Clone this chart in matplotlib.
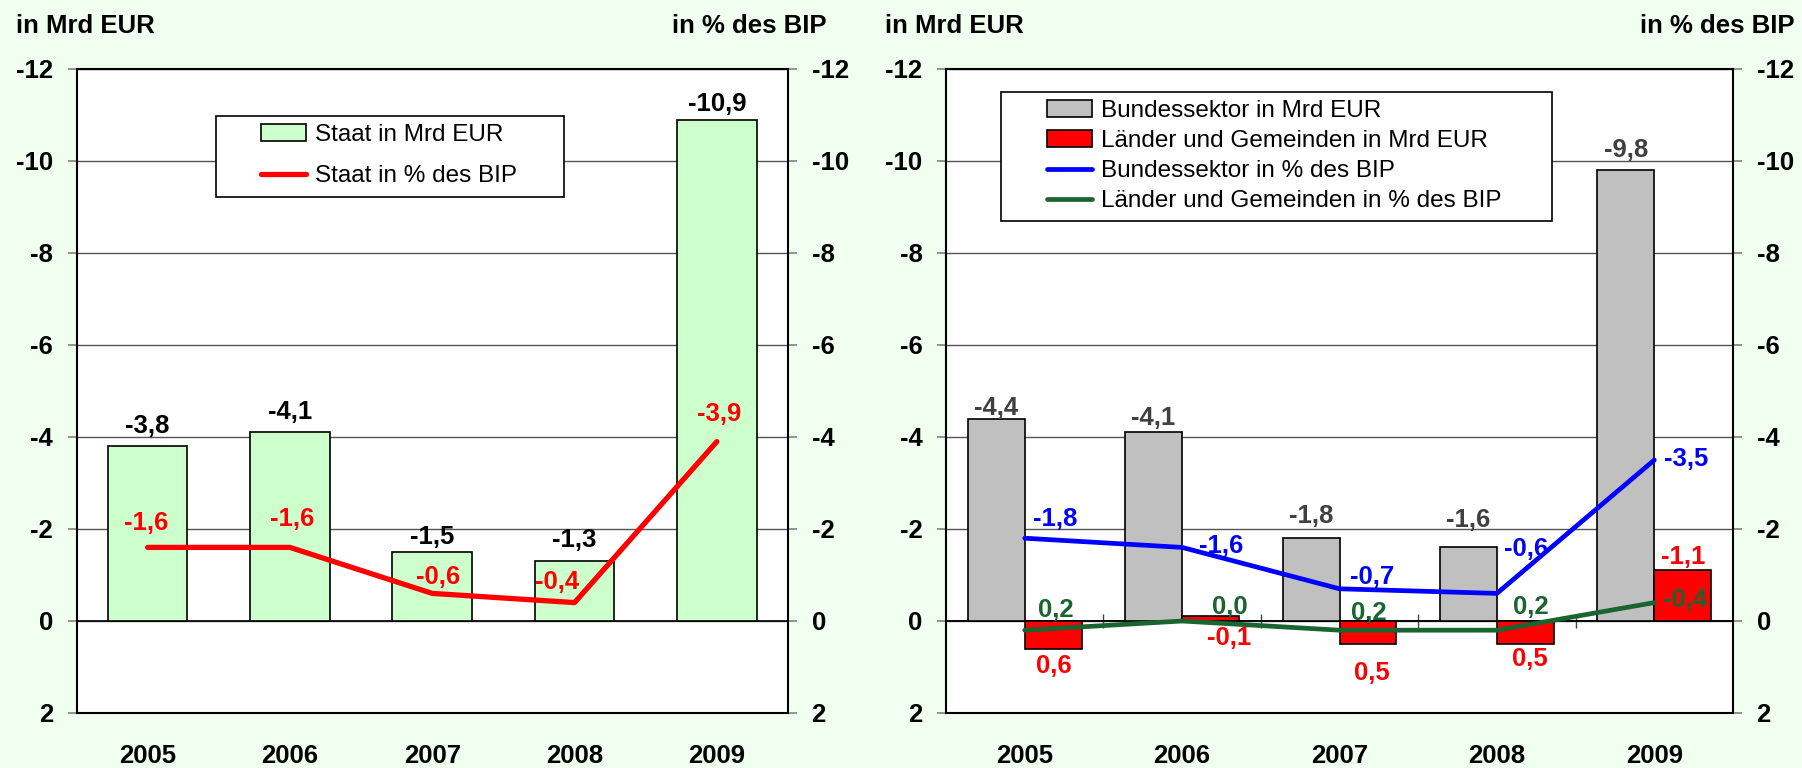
"""Budget balance of the state sectors 2005-2009, two panels with inverted value axes."""

import matplotlib

matplotlib.use("Agg")

import matplotlib.pyplot as plt
import numpy as np
from matplotlib.patches import Rectangle

# data (deficits negative, axes inverted)
years = ["2005", "2006", "2007", "2008", "2009"]
staat_mrd = [-3.8, -4.1, -1.5, -1.3, -10.9]
staat_bip = [-1.6, -1.6, -0.6, -0.4, -3.9]
bund_mrd = [-4.4, -4.1, -1.8, -1.6, -9.8]
laender_mrd = [0.6, -0.1, 0.5, 0.5, -1.1]
bund_bip = [-1.8, -1.6, -0.7, -0.6, -3.5]
laender_bip = [0.2, 0.0, 0.2, 0.2, -0.4]
y_ticks = [-12, -10, -8, -6, -4, -2, 0, 2]

# label offsets in pixels (dx, dy), layout only
off_staat_mrd = [(0, 20), (0, 20), (0, 15), (0, 21), (0, 16)]
off_staat_bip = [(-2, 24), (2, 28), (6, 16), (-17, 21), (2, 28)]
off_bund_mrd = [(0, 11), (0, 14), (0, 22), (0, 27), (0, 20)]
off_laender_mrd = [(1, -17), (19, -22), (4, -29), (4, -15), (0, 13)]
off_bund_bip = [(30, 19), (39, 1), (33, 12), (29, 44), (32, 1)]
off_laender_bip = [(31, 20), (48, 14), (29, 17), (34, 23), (31, 3)]

BG = "#F0FFF0"
GREEN = "#1A6430"
W, H = 1802, 768
FS = 18.5

plt.rcParams["font.family"] = ["Liberation Sans", "DejaVu Sans"]
plt.rcParams["font.weight"] = "bold"


def fmt(v):
    return f"{v:.1f}".replace(".", ",")


def add_axes_px(fig, x0, x1, top, bottom):
    return fig.add_axes([x0 / W, 1 - bottom / H, (x1 - x0) / W, (bottom - top) / H])


def style_axes(ax):
    ax.set_facecolor("white")
    ax.set_xlim(-0.5, len(years) - 0.5)
    ax.set_ylim(2, -12)
    ax.set_yticks(y_ticks)
    ax.set_yticklabels([str(t) for t in y_ticks])
    ax.tick_params(axis="y", left=True, right=True, labelleft=True, labelright=True,
                   direction="out", length=6.5, width=1.2, color="#808080",
                   pad=10.5, labelsize=FS)
    ax.set_xticks(np.arange(len(years)))
    ax.set_xticklabels(years)
    ax.tick_params(axis="x", length=0, pad=22, labelsize=FS)
    ax.yaxis.grid(True, color="#555555", lw=1.0)
    ax.set_axisbelow(True)
    for sp in ax.spines.values():
        sp.set_linewidth(1.5)
        sp.set_color("black")
    ax.axhline(0, color="black", lw=1.2, zorder=1.5)


def label(ax, xs, vals, offsets, color):
    for xi, v, (dx, dy) in zip(xs, vals, offsets):
        ax.annotate(fmt(v), (xi, v), xytext=(dx, dy), textcoords="offset pixels",
                    ha="center", va="center", fontsize=FS, fontweight="bold",
                    color=color, zorder=5)


fig = plt.figure(figsize=(W / 100, H / 100), dpi=100, facecolor=BG)
x = np.arange(len(years))

# left panel: Staat
ax_l = add_axes_px(fig, 76.5, 788, 69, 713)
style_axes(ax_l)
bars_staat = ax_l.bar(x, staat_mrd, width=0.56, color="#CCFFCC", edgecolor="black",
                      lw=1.2, zorder=2, label="Staat in Mrd EUR")
line_staat, = ax_l.plot(x, staat_bip, color="#FF0000", lw=3.8, zorder=3,
                        solid_capstyle="round", label="Staat in % des BIP")
label(ax_l, x, staat_mrd, off_staat_mrd, "black")
label(ax_l, x, staat_bip, off_staat_bip, "#FF0000")

# right panel: Bund vs Länder und Gemeinden
ax_r = add_axes_px(fig, 946, 1733, 69, 713)
style_axes(ax_r)
w = 0.362
bars_bund = ax_r.bar(x - w / 2, bund_mrd, width=w, color="#C0C0C0", edgecolor="black",
                     lw=1.2, zorder=2, label="Bundessektor in Mrd EUR")
bars_laender = ax_r.bar(x + w / 2, laender_mrd, width=w, color="#FF0000", edgecolor="black",
                        lw=1.2, zorder=2, label="Länder und Gemeinden in Mrd EUR")
line_bund, = ax_r.plot(x, bund_bip, color="#0000FF", lw=3.4, zorder=3,
                       solid_capstyle="round", label="Bundessektor in % des BIP")
line_laender, = ax_r.plot(x, laender_bip, color=GREEN, lw=3.4, zorder=3,
                          solid_capstyle="round", label="Länder und Gemeinden in % des BIP")
label(ax_r, x - w / 2, bund_mrd, off_bund_mrd, "#404040")
label(ax_r, x + w / 2, laender_mrd, off_laender_mrd, "#FF0000")
label(ax_r, x, bund_bip, off_bund_bip, "#0000FF")
label(ax_r, x, laender_bip, off_laender_bip, GREEN)

# category boundary ticks on the zero line
zero_frac = (0 - 2) / (-12 - 2)
sec = ax_r.secondary_xaxis(zero_frac)
bounds = x[:-1] + 0.5
sec.set_xticks(bounds, labels=[""] * len(bounds))
sec.tick_params(direction="inout", length=10, width=1.0, color="#444444")
for sp in sec.spines.values():
    sp.set_color("black")
    sp.set_linewidth(1.2)

# legends with separate frames
leg_font = {"size": 17.5, "weight": "normal"}
fig.add_artist(Rectangle((216 / W, 1 - 197 / H), (564 - 216) / W, (197 - 116) / H,
                         transform=fig.transFigure, facecolor="white",
                         edgecolor="black", lw=1.2, zorder=4))
fig.legend(handles=[bars_staat, line_staat], loc="upper left",
           bbox_to_anchor=(261 / W, 1 - 124 / H), bbox_transform=fig.transFigure,
           frameon=False, borderpad=0, borderaxespad=0, prop=leg_font,
           handlelength=1.86, handletextpad=0.36, labelspacing=0.8)

fig.add_artist(Rectangle((1001 / W, 1 - 221 / H), (1552 - 1001) / W, (221 - 92) / H,
                         transform=fig.transFigure, facecolor="white",
                         edgecolor="black", lw=1.2, zorder=4))
fig.legend(handles=[bars_bund, bars_laender, line_bund, line_laender], loc="upper left",
           bbox_to_anchor=(1047 / W, 1 - 100 / H), bbox_transform=fig.transFigure,
           frameon=False, borderpad=0, borderaxespad=0, prop=leg_font,
           handlelength=1.86, handletextpad=0.36, labelspacing=0.33)

# axis headers
hy = 1 - 26 / H
fig.text(16 / W, hy, "in Mrd EUR", ha="left", va="center", fontsize=FS, fontweight="bold")
fig.text(827 / W, hy, "in % des BIP", ha="right", va="center", fontsize=FS, fontweight="bold")
fig.text(885 / W, hy, "in Mrd EUR", ha="left", va="center", fontsize=FS, fontweight="bold")
fig.text(1795 / W, hy, "in % des BIP", ha="right", va="center", fontsize=FS, fontweight="bold")

fig.savefig("out.png", dpi=100, facecolor=BG)
